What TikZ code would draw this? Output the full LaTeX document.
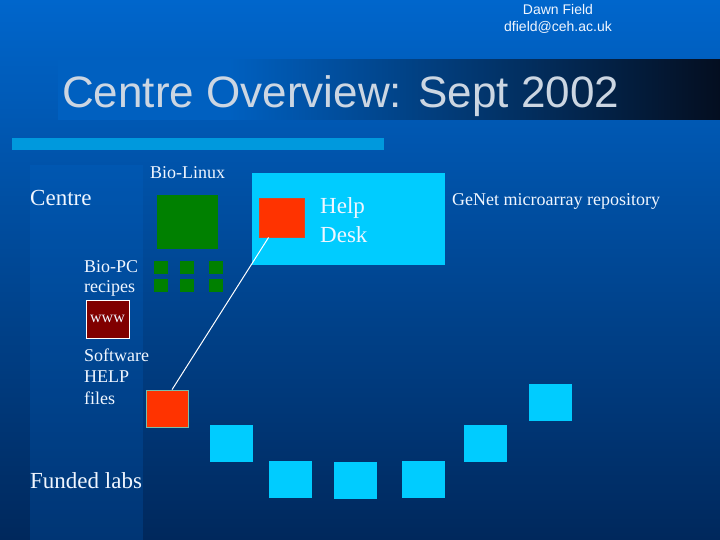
\documentclass[tikz,border=0pt]{standalone}
\usepackage{fontspec}
\setmainfont{Liberation Serif}
\newfontfamily\arialfont{Liberation Sans}
\definecolor{bgtop}{RGB}{0,102,204}
\definecolor{bgbot}{RGB}{0,40,92}
\definecolor{labcyan}{RGB}{0,204,255}
\definecolor{pcgreen}{RGB}{0,128,0}
\definecolor{deskred}{RGB}{255,51,0}
\definecolor{wwwred}{RGB}{128,0,0}
\definecolor{titlegray}{RGB}{204,214,226}
\definecolor{barblue}{RGB}{0,153,221}
\definecolor{txtwhite}{RGB}{240,246,255}
\definecolor{tealedge}{RGB}{120,190,170}
\begin{document}
\begin{tikzpicture}[x=1pt,y=-1pt,
    txtbig/.style={font=\fontsize{23}{27}\selectfont,text=txtwhite,inner sep=0pt,anchor=base west},
    txtsmall/.style={font=\fontsize{18}{21}\selectfont,text=txtwhite,inner sep=0pt,anchor=base west},
    author/.style={font=\arialfont\fontsize{14}{17}\selectfont,text=txtwhite,inner sep=0pt,anchor=base},
    titletext/.style={font=\arialfont\fontsize{44}{50}\selectfont,inner sep=0pt,anchor=base west},
    panel/.style={fill=labcyan,minimum width=193pt,minimum height=92pt,inner sep=0pt},
    labbox/.style={fill=labcyan,minimum width=43pt,minimum height=37pt,inner sep=0pt},
    linuxbox/.style={fill=pcgreen,minimum width=61pt,minimum height=54pt,inner sep=0pt},
    pcbox/.style={fill=pcgreen,minimum width=14pt,minimum height=13pt,inner sep=0pt},
    redbox/.style={fill=deskred,line width=0.8pt,inner sep=0pt},
    wwwbox/.style={fill=wwwred,draw=white,line width=1pt,minimum width=43pt,minimum height=38pt,inner sep=0pt,
        font=\fontsize{16}{18}\selectfont,text=txtwhite},
    link/.style={draw=white,line width=1pt},
]
    \useasboundingbox (0,0) rectangle (720,540);
    % background
    \fill[top color=bgtop,bottom color=bgbot] (0,0) rectangle (720,540);
    \fill[bgtop,opacity=0.22] (30,165) rectangle (143,540); % centre column
    % title band
    \fill[bgtop!94!black] (58,60) rectangle (230,120);
    \shade[left color=bgtop!94!black,right color={rgb,255:red,4;green,14;blue,32}] (230,60) rectangle (720,120);
    \node[titletext,text=titlegray] at (62,108) (title) {Centre Overview: Sept 2002};
    \fill[barblue] (12,138) rectangle (384,150);

    \node[author] at (558,15) (name) {Dawn Field};
    \node[author] at (558,32) (mail) {dfield@ceh.ac.uk};

    % help desk
    \node[panel] at (348.5,219) (panel) {};
    \node[redbox,draw=deskred!75!gray,minimum width=45pt,minimum height=39pt] at (281.5,217.5) (desk) {};
    \node[txtbig] at (320,214) (help) {Help};
    \node[txtbig] at (320,243) (deskt) {Desk};

    % centre
    \node[txtbig] at (30,206) (centre) {Centre};
    \node[txtsmall] at (150,179) (biolinux) {Bio-Linux};
    \node[linuxbox] at (187.5,222) (linux) {};
    \foreach \x/\i in {161/1,186.5/2,215.5/3}{
        \node[pcbox] at (\x,267.5) (pca\i) {};
        \node[pcbox] at (\x,285.5) (pcb\i) {};
    }
    \node[txtsmall] at (84,272) (biopc) {Bio-PC};
    \node[txtsmall] at (84,292) (recipes) {recipes};
    \node[wwwbox] at (107.5,319) (www) {www};
    \node[txtsmall] at (84,361) (software) {Software};
    \node[txtsmall] at (84,382) (helpt) {HELP};
    \node[txtsmall] at (84,404) (filest) {files};
    \node[redbox,draw=tealedge,minimum width=42pt,minimum height=37pt] at (167,408.5) (files) {};
    \draw[link] (files.75) -- (desk.-123);

    % labs
    \node[txtbig] at (30,488) (funded) {Funded labs};
    \foreach \x/\y/\i in {231.5/443.5/1,290.5/479.5/2,355.5/480.5/3,423.5/479.5/4,485.5/443.5/5,550.5/402.5/6}
        \node[labbox] at (\x,\y) (lab\i) {};

    \node[txtsmall] at (452,206) (genet) {GeNet microarray repository};
\end{tikzpicture}
\end{document}
